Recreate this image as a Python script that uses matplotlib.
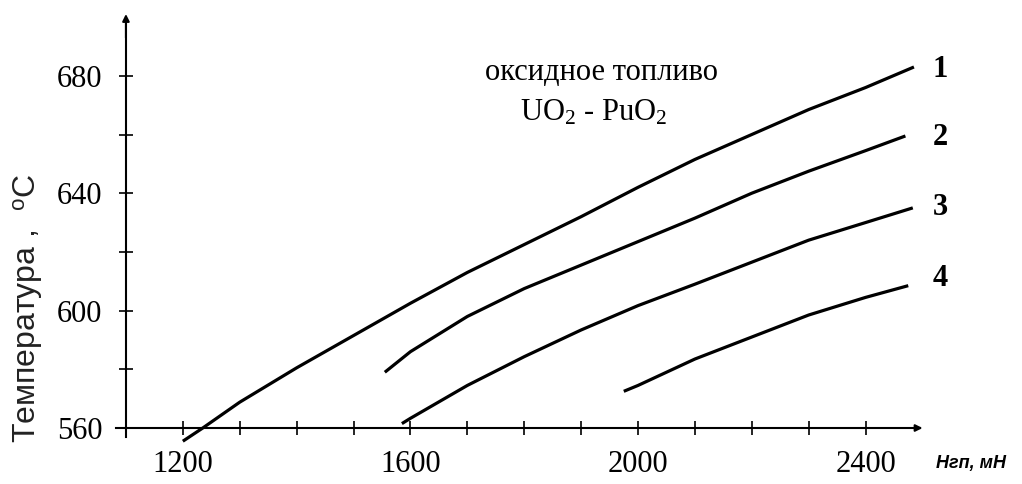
import matplotlib
matplotlib.use('Agg')
import matplotlib.pyplot as plt

plt.rcParams['font.family'] = ['Liberation Serif', 'DejaVu Serif']
plt.rcParams['mathtext.fontset'] = 'custom'
plt.rcParams['mathtext.rm'] = 'Liberation Serif'
plt.rcParams['mathtext.it'] = 'Liberation Serif:italic'
plt.rcParams['mathtext.bf'] = 'Liberation Serif:bold'

# Кривые 1-4: температура от H_гп
x1 = [1200, 1235, 1300, 1400, 1500, 1600, 1700, 1800, 1900, 2000, 2100, 2200, 2300, 2400, 2485]
y1 = [555.5, 560, 568.8, 580.5, 591.5, 602.5, 613, 622.5, 632, 642, 651.5, 660, 668.5, 676, 683]

x2 = [1555, 1600, 1700, 1800, 1900, 2000, 2100, 2200, 2300, 2400, 2470]
y2 = [579, 586, 598, 607.5, 615.5, 623.5, 631.5, 640, 647.5, 654.5, 659.5]

x3 = [1585, 1600, 1700, 1800, 1900, 2000, 2100, 2200, 2300, 2400, 2483]
y3 = [561.5, 563.3, 574.5, 584.3, 593.4, 601.7, 609, 616.5, 624, 630, 635]

x4 = [1975, 2000, 2100, 2200, 2300, 2400, 2475]
y4 = [572.5, 574.5, 583.5, 591, 598.5, 604.5, 608.5]

curve_labels = ['1', '2', '3', '4']

x_ticks = list(range(1200, 2401, 100))
x_ticklabels = ['1200', '', '', '', '1600', '', '', '', '2000', '', '', '', '2400']
y_ticks = [560, 580, 600, 620, 640, 660, 680]
y_ticklabels = ['560', '', '600', '', '640', '', '680']

fig = plt.figure(figsize=(10.22, 4.84), dpi=100)
ax = fig.add_axes([0.1121, 0.0793, 0.7933, 0.8975])
ax.set_xlim(1080, 2505)
ax.set_ylim(554, 702)

for xs, ys in [(x1, y1), (x2, y2), (x3, y3), (x4, y4)]:
    ax.plot(xs, ys, color='black', lw=2.3, solid_capstyle='butt', solid_joinstyle='round')

# оси как на рисунке: крест в точке (1100, 560)
ax.spines['top'].set_visible(False)
ax.spines['right'].set_visible(False)
ax.spines['left'].set_position(('data', 1100))
ax.spines['bottom'].set_position(('data', 560))
ax.spines['left'].set_bounds(557, 698)
ax.spines['bottom'].set_bounds(1082, 2495)
ax.spines['left'].set_linewidth(1.5)
ax.spines['bottom'].set_linewidth(1.5)

ax.annotate('', xy=(2505, 560), xytext=(2480, 560),
            arrowprops=dict(arrowstyle='-|>', lw=1.5, color='black', mutation_scale=10))
ax.annotate('', xy=(1100, 702), xytext=(1100, 692),
            arrowprops=dict(arrowstyle='-|>', lw=1.5, color='black', mutation_scale=10))

ax.set_xticks(x_ticks)
ax.set_xticklabels(x_ticklabels)
ax.set_yticks(y_ticks)
ax.set_yticklabels(y_ticklabels)
ax.tick_params(axis='both', direction='inout', length=10, width=1.2, labelsize=22)
ax.tick_params(axis='x', pad=11)
ax.tick_params(axis='y', pad=12)

# подписи
ax.text(1935, 681, 'оксидное топливо', fontsize=22, ha='center', va='center')
ax.text(1922, 667.3, r'UO$_2$ - PuO$_2$', fontsize=22, ha='center', va='center')

for lab, yy in zip(curve_labels, [682, 659.1, 635, 610.8]):
    ax.text(2532, yy, lab, fontsize=22, fontweight='bold', ha='center', va='center', clip_on=False)

ax.text(2585, 548, 'Hгп, мН', fontsize=13, fontstyle='italic', fontweight='bold',
        family=['Liberation Sans', 'DejaVu Sans'], ha='center', va='center', clip_on=False)

fig.text(28 / 1022, 1 - 308 / 484, r'Температура ,  $^{\mathregular{o}}$C', rotation=90,
         fontsize=23, family=['Liberation Sans', 'DejaVu Sans'], color='#222222',
         ha='center', va='center')

fig.savefig('out.png', dpi=100)
plt.close()
